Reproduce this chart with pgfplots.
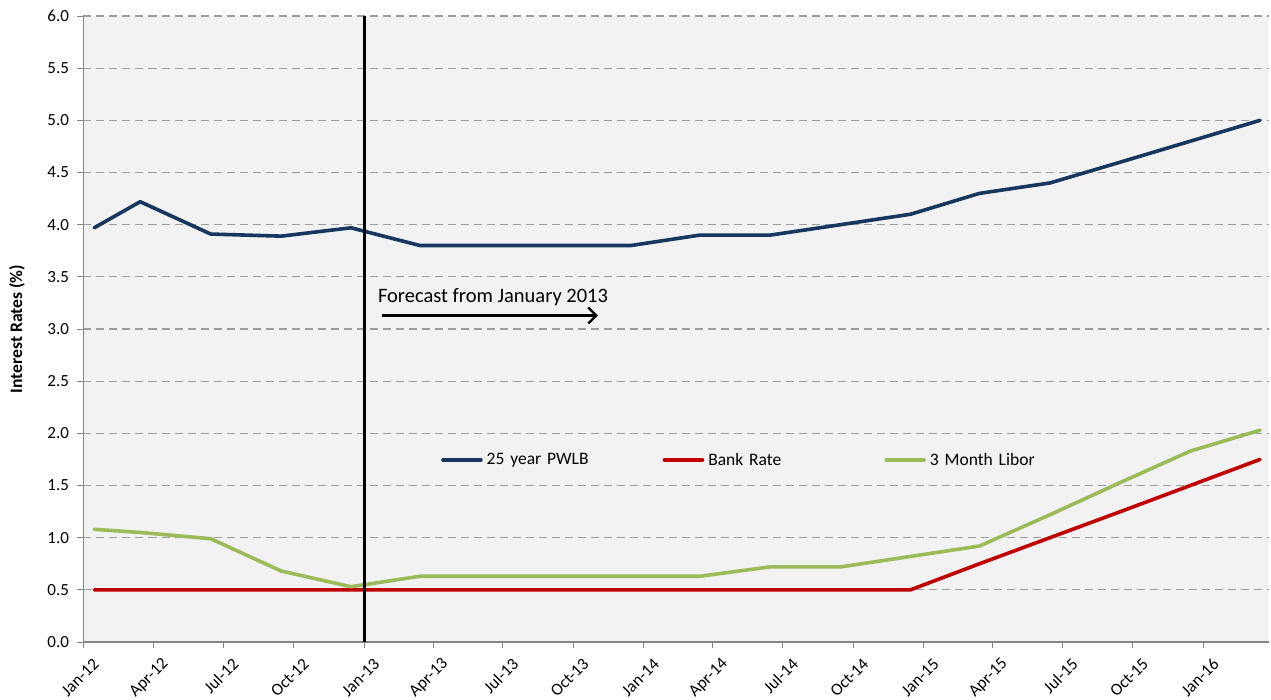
\documentclass[border=0pt]{standalone}
\usepackage{pgfplots}
\pgfplotsset{compat=1.18}
\usepackage{fontspec}
\setmainfont{Carlito}
\usetikzlibrary{arrows.meta}
\definecolor{pwlb}{HTML}{17375E}
\definecolor{bank}{HTML}{C00000}
\definecolor{libor}{HTML}{9BBB59}
\definecolor{bggray}{HTML}{F2F2F2}
\definecolor{gridgray}{HTML}{9C9C9C}
\definecolor{axgray}{HTML}{868686}
\begin{document}
\begin{tikzpicture}
\begin{axis}[
  at={(0,0)}, anchor=south west,
  scale only axis,
  width=1185pt, height=626pt,
  xmin=0, xmax=1546, ymin=0, ymax=6,
  axis background/.style={fill=bggray},
  axis x line*=bottom, axis y line*=left,
  axis line style={axgray, line width=1.2pt, -},
  tick align=outside,
  major tick length=6pt,
  tick style={axgray, line width=1pt},
  xtick={0,91,182,274,366,456,547,639,731,821,912,1004,1096,1186,1277,1369,1461},
  xticklabels={Jan-12,Apr-12,Jul-12,Oct-12,Jan-13,Apr-13,Jul-13,Oct-13,Jan-14,Apr-14,Jul-14,Oct-14,Jan-15,Apr-15,Jul-15,Oct-15,Jan-16},
  ytick={0,0.5,...,6},
  /pgf/number format/assume math mode=true,
  yticklabel style={/pgf/number format/.cd, fixed, fixed zerofill, precision=1, /tikz/.cd, font=\fontsize{17}{19}\selectfont, xshift=-5pt},
  xticklabel style={font=\fontsize{17}{19}\selectfont, shift={(15pt,-11pt)}, rotate=45, anchor=east},
  ymajorgrids,
  major grid style={gridgray, line width=1.2pt, dash pattern=on 8pt off 5pt},
  ylabel={Interest Rates (\%)},
  every axis y label/.style={at={(axis description cs:0,0.5)}, xshift=-66.5pt, rotate=90, anchor=center, font=\fontsize{17.6}{19}\selectfont\bfseries},
  legend columns=3,
  legend style={draw=none, fill=none, inner sep=0pt, outer sep=0pt, column sep=0pt,
    at={(axis description cs:0.3018,0.291)}, anchor=west,
    nodes={inner sep=0pt, inner xsep=4pt, text width=172pt, align=left, font=\fontsize{17.5}{19}\selectfont}},
  legend image code/.code={\draw[#1] (0pt,0pt) -- (38pt,0pt);},
  every axis plot/.append style={line width=3.6pt, line cap=round, line join=round},
]
\addplot[pwlb] coordinates {(14,3.97) (74,4.22) (166,3.91) (258,3.89) (349,3.97) (439,3.80) (531,3.80) (623,3.80) (714,3.80) (804,3.90) (896,3.90) (988,4.00) (1079,4.10) (1169,4.30) (1261,4.40) (1353,4.60) (1444,4.80) (1535,5.00)};
\addlegendentry{25 year PWLB}
\addplot[bank] coordinates {(14,0.5) (74,0.5) (166,0.5) (258,0.5) (349,0.5) (439,0.5) (531,0.5) (623,0.5) (714,0.5) (804,0.5) (896,0.5) (988,0.5) (1079,0.5) (1169,0.75) (1261,1.00) (1353,1.25) (1444,1.50) (1535,1.75)};
\addlegendentry{Bank Rate}
\addplot[libor] coordinates {(14,1.08) (74,1.05) (166,0.99) (258,0.68) (349,0.53) (439,0.63) (531,0.63) (623,0.63) (714,0.63) (804,0.63) (896,0.72) (988,0.72) (1079,0.82) (1169,0.92) (1261,1.22) (1353,1.53) (1444,1.83) (1535,2.03)};
\addlegendentry{3 Month Libor}
\addplot[black, line width=3pt, line cap=butt, forget plot] coordinates {(366,0) (366,6)};
\draw[black, line width=2.3pt, -{Straight Barb[length=8pt, width=16pt, line width=2.3pt]}] (axis cs:389,3.13) -- (axis cs:671,3.13);
\node[anchor=base west, inner sep=0pt, font=\fontsize{20.5}{22}\selectfont] at (axis cs:384,3.25) {Forecast from January 2013};
\end{axis}
\pgfresetboundingbox
\path (-83.5pt,-57pt) rectangle (1187.5pt,642pt);
\end{tikzpicture}
\end{document}
